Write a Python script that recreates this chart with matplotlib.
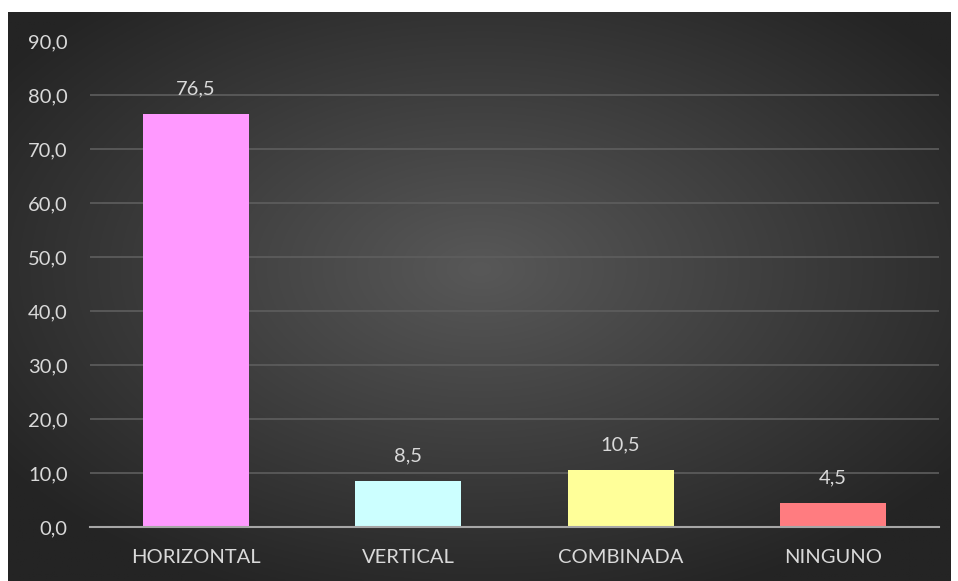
import numpy as np
import matplotlib
matplotlib.use("Agg")
import matplotlib.pyplot as plt

categories = ["HORIZONTAL", "VERTICAL", "COMBINADA", "NINGUNO"]
values = [76.5, 8.5, 10.5, 4.5]
colors = ["#ff99ff", "#ccffff", "#ffff99", "#ff7c80"]
yticks = [0, 10, 20, 30, 40, 50, 60, 70, 80, 90]

W, H = 958, 581
fig = plt.figure(figsize=(W / 100, H / 100), dpi=100)
fig.patch.set_facecolor("white")

# background panel with radial gradient
bg = fig.add_axes([8 / W, 0, (951 - 8) / W, (H - 12) / H])
bg.set_axis_off()
ny, nx = 300, 500
yy, xx = np.mgrid[0:ny, 0:nx]
cx, cy = nx * 0.5, ny * 0.45
r = np.sqrt(((xx - cx) / (nx * 0.62)) ** 2 + ((yy - cy) / (ny * 0.62)) ** 2)
r = np.clip(r, 0, 1)
inner = np.array([0x58, 0x58, 0x58]) / 255
outer = np.array([0x24, 0x24, 0x24]) / 255
img = inner[None, None, :] * (1 - r[..., None]) + outer[None, None, :] * r[..., None]
bg.imshow(img, aspect="auto", extent=[0, 1, 0, 1])
bg.set_xlim(0, 1)
bg.set_ylim(0, 1)

ax = fig.add_axes([90 / W, (H - 527) / H, (939 - 90) / W, (527 - 41.5) / H])
ax.patch.set_alpha(0)
x = np.arange(len(categories))
bars = ax.bar(x, values, width=0.5, color=colors, zorder=3)
ax.set_xlim(-0.5, len(categories) - 0.5)
ax.set_ylim(0, 90)
ax.set_yticks(yticks)
ax.set_yticklabels([f"{v:.1f}".replace(".", ",") for v in yticks])
ax.set_xticks(x)
ax.set_xticklabels(categories)
ax.yaxis.grid(True, color="#5e5e5e", linewidth=1.2, zorder=0)
ax.set_axisbelow(True)
for s in ["top", "right", "left"]:
    ax.spines[s].set_visible(False)
ax.spines["bottom"].set_color("#a6a6a6")
ax.spines["bottom"].set_linewidth(1.5)
ax.spines["bottom"].set_zorder(4)
ax.tick_params(axis="both", length=0, colors="#d9d9d9", labelsize=14.5)
ax.tick_params(axis="y", pad=16)
ax.tick_params(axis="x", pad=16)
for lab in ax.get_xticklabels() + ax.get_yticklabels():
    lab.set_family("Lato")
for xi, v in zip(x, values):
    ax.annotate(f"{v:.1f}".replace(".", ","), (xi, v), xytext=(0, 12),
                textcoords="offset points", ha="center", va="bottom",
                color="#d9d9d9", fontsize=14.5, family="Lato")

fig.savefig("out.png", dpi=100)
